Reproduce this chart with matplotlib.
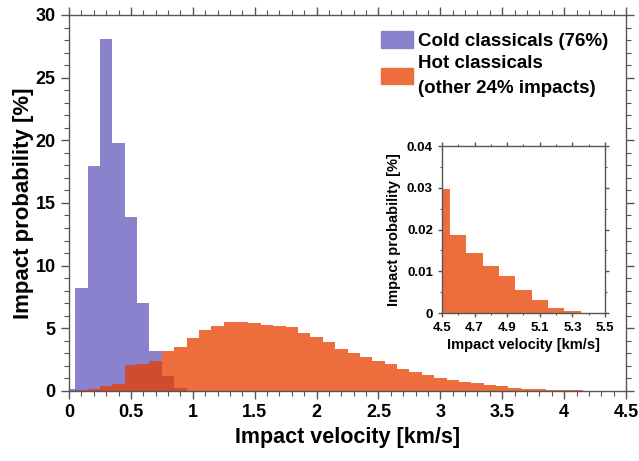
import numpy as np
import matplotlib
matplotlib.use("Agg")
import matplotlib.pyplot as plt
from matplotlib.patches import Patch
from matplotlib.ticker import MultipleLocator, FormatStrFormatter

plt.rcParams['font.family'] = ['Liberation Sans', 'DejaVu Sans']
plt.rcParams['font.weight'] = 'bold'

# histogram bins, 0.1 km/s wide
vel = np.round(np.arange(0.0, 4.51, 0.1), 2)

cold_vel = np.array([0.0, 0.1, 0.2, 0.3, 0.4, 0.5, 0.6, 0.7, 0.8, 0.9])
cold_prob = np.array([0.15, 8.25, 17.95, 28.06, 19.8, 13.85, 6.98, 3.17, 1.2, 0.27])

hot_prob = np.array([0.02, 0.06, 0.13, 0.4, 0.54, 2.05, 2.13, 2.4, 3.17, 3.5,
                     4.26, 4.9, 5.17, 5.51, 5.51, 5.43, 5.25, 5.16, 5.12, 4.63,
                     4.31, 3.92, 3.36, 3.05, 2.73, 2.39, 2.13, 1.78, 1.5, 1.27,
                     1.03, 0.88, 0.75, 0.66, 0.51, 0.37, 0.27, 0.19, 0.13, 0.08,
                     0.05, 0.04, 0.03, 0.02, 0.01, 0.005])

# high-velocity tail of the hot population
tail_vel = np.array([4.5, 4.6, 4.7, 4.8, 4.9, 5.0, 5.1, 5.2, 5.3, 5.4])
tail_prob = np.array([0.0298, 0.0187, 0.0143, 0.0113, 0.0089, 0.0055, 0.0030, 0.0012, 0.0004, 0.00005])

c_cold = '#8a82cc'
c_hot = '#ee6d3d'
c_both = '#d14b30'
c_axis = '#555555'


def style(ax, size, major, minor):
    for s in ax.spines.values():
        s.set_color(c_axis)
        s.set_linewidth(1.0)
    ax.tick_params(which='both', direction='out', color=c_axis, top=True, right=True,
                   labelsize=size)
    ax.tick_params(which='major', length=major, width=1.0)
    ax.tick_params(which='minor', length=minor, width=0.8)
    for t in ax.get_xticklabels() + ax.get_yticklabels():
        t.set_fontweight('bold')


fig = plt.figure(figsize=(6.39, 4.61), dpi=100)
ax = fig.add_axes([0.108, 0.152, 0.8717, 0.8155])

# overlap of the two populations gets its own darker shade
cold_full = np.zeros_like(hot_prob)
cold_full[:len(cold_prob)] = cold_prob
both = np.minimum(cold_full, hot_prob)

ax.bar(cold_vel, cold_prob, width=0.1, color=c_cold, linewidth=0)
ax.bar(vel, hot_prob, width=0.1, color=c_hot, linewidth=0)
ax.bar(vel, both, width=0.1, color=c_both, linewidth=0)

ax.set_xlim(0, 4.5)
ax.set_ylim(0, 30)
ax.xaxis.set_major_locator(MultipleLocator(0.5))
ax.xaxis.set_minor_locator(MultipleLocator(0.1))
ax.yaxis.set_major_locator(MultipleLocator(5))
ax.yaxis.set_minor_locator(MultipleLocator(1))
ax.xaxis.set_major_formatter(FormatStrFormatter('%g'))
ax.yaxis.set_major_formatter(FormatStrFormatter('%g'))
style(ax, 13, 6, 3.5)
ax.set_xlabel('Impact velocity [km/s]', fontsize=15.5, fontweight='bold', labelpad=4)
ax.set_ylabel('Impact probability [%]', fontsize=16, fontweight='bold', labelpad=1)

handles = [Patch(color=c_cold), Patch(color=c_hot)]
labels = ['Cold classicals (76%)', 'Hot classicals\n(other 24% impacts)']
leg = fig.legend(handles, labels, loc='upper left', bbox_to_anchor=(381 / 639, 1 - 31 / 461),
                 frameon=False, prop={'weight': 'bold', 'size': 13.5},
                 handlelength=1.7, handleheight=1.0, handletextpad=0.25,
                 labelspacing=0.3, borderpad=0, borderaxespad=0)
for t in leg.get_texts():
    t.set_linespacing(1.55)

# inset: tail above 4.5 km/s
ins = fig.add_axes([442 / 639, 1 - 313 / 461, 163 / 639, 167 / 461])
ins.bar(tail_vel, tail_prob, width=0.1, color=c_hot, linewidth=0)
ins.set_xlim(4.5, 5.5)
ins.set_ylim(0, 0.04)
ins.xaxis.set_major_locator(MultipleLocator(0.2))
ins.xaxis.set_minor_locator(MultipleLocator(0.1))
ins.yaxis.set_major_locator(MultipleLocator(0.01))
ins.yaxis.set_minor_locator(MultipleLocator(0.005))
ins.xaxis.set_major_formatter(FormatStrFormatter('%g'))
ins.yaxis.set_major_formatter(FormatStrFormatter('%g'))
style(ins, 9.5, 3, 1.5)
ins.set_xticks(np.arange(4.5, 5.51, 0.2))
ins.set_xlabel('Impact velocity [km/s]', fontsize=10.5, fontweight='bold', labelpad=3)
ins.set_ylabel('Impact probability [%]', fontsize=10.5, fontweight='bold', labelpad=4)
for t in ins.get_xticklabels() + ins.get_yticklabels():
    t.set_fontweight('bold')

fig.savefig('out.png', dpi=100)
